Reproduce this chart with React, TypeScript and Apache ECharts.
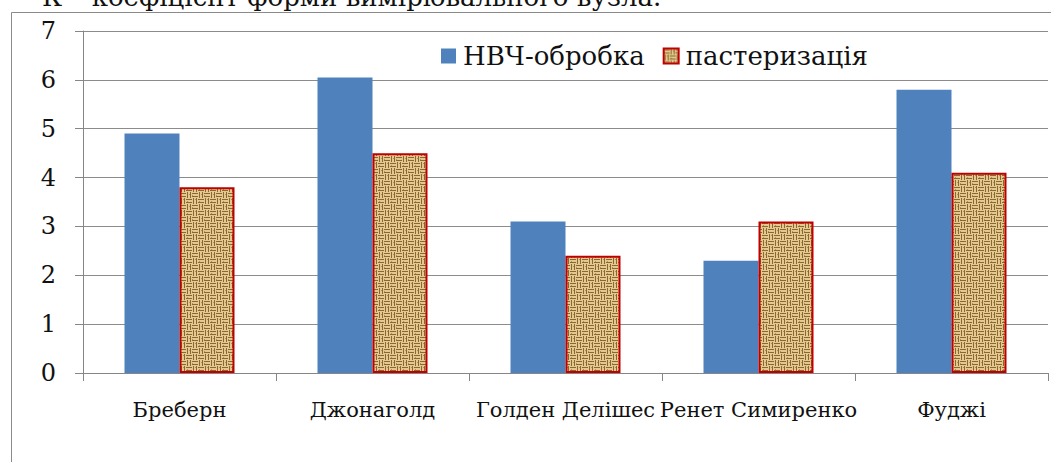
import React, { useEffect, useRef } from "react";
import * as echarts from "echarts";

const categories = ["Бреберн", "Джонаголд", "Голден Делішес", "Ренет Симиренко", "Фуджі"];
const seriesNames = ["НВЧ-обробка", "пастеризація"];
const microwaveValues = [4.9, 6.05, 3.1, 2.3, 5.8];
const pasteurValues = [3.8, 4.5, 2.4, 3.1, 4.1];
const yTicks = [0, 1, 2, 3, 4, 5, 6, 7];
const topCaption = "К – коефіцієнт форми вимірювального вузла.";

function makeBurlap(): HTMLCanvasElement {
  const c = document.createElement("canvas");
  c.width = 12;
  c.height = 12;
  const g = c.getContext("2d")!;
  g.fillStyle = "#e3c98f";
  g.fillRect(0, 0, 12, 12);
  g.fillStyle = "#8a672e";
  for (let by = 0; by < 2; by++) {
    for (let bx = 0; bx < 2; bx++) {
      const ox = bx * 6;
      const oy = by * 6;
      if ((bx + by) % 2 === 0) {
        g.fillRect(ox, oy + 1, 6, 1);
        g.fillRect(ox, oy + 4, 6, 1);
      } else {
        g.fillRect(ox + 1, oy, 1, 6);
        g.fillRect(ox + 4, oy, 1, 6);
      }
    }
  }
  g.fillStyle = "#b08f52";
  g.fillRect(0, 3, 1, 1);
  g.fillRect(7, 9, 1, 1);
  g.fillRect(3, 7, 1, 1);
  g.fillRect(9, 2, 1, 1);
  return c;
}

export default function App() {
  const ref = useRef<HTMLDivElement>(null);
  useEffect(() => {
    if (!ref.current) return;
    const chart = echarts.init(ref.current, undefined, { renderer: "svg" });
    const pattern = { image: makeBurlap(), repeat: "repeat" as const };
    const serif = "DejaVu Serif";
    const lbl = (size: number) => ({ fontFamily: serif, fontSize: size, color: "#111", fontWeight: "normal" as const, fontStyle: "normal" as const });
    chart.setOption({
      animation: false,
      backgroundColor: "#ffffff",
      textStyle: { fontFamily: serif },
      graphic: [
        {
          type: "rect",
          shape: { x: 11.5, y: 12.5, width: 1100, height: 600 },
          style: { fill: "none", stroke: "#8a8a8a", lineWidth: 1 },
          silent: true,
          z: -10,
        },
        {
          type: "text",
          left: 42,
          top: -16,
          style: { text: topCaption, fontFamily: serif, fontSize: 26, fill: "#111" },
          silent: true,
        },
      ],
      legend: {
        left: 436,
        top: 38,
        itemWidth: 15,
        itemHeight: 15,
        itemGap: 18,
        icon: "rect",
        textStyle: { ...lbl(26), padding: [0, 0, 0, 2] },
        data: seriesNames,
      },
      grid: { left: 83, right: 3, top: 31, bottom: 89, containLabel: false },
      xAxis: {
        type: "category",
        data: categories,
        axisLine: { lineStyle: { color: "#868686", width: 1 } },
        axisTick: { show: true, length: 8, lineStyle: { color: "#868686" } },
        axisLabel: { interval: 0, ...lbl(21), margin: 26 },
      },
      yAxis: {
        type: "value",
        min: 0,
        max: 7,
        interval: 1,
        axisLine: { show: true, lineStyle: { color: "#868686", width: 1 } },
        axisTick: { show: true, inside: false, length: 8, lineStyle: { color: "#868686" } },
        splitLine: { show: true, lineStyle: { color: "#8c8c8c", width: 1 } },
        axisLabel: {
          ...lbl(24),
          margin: 27,
          formatter: (v: number) => (yTicks.includes(v) ? String(v) : ""),
        },
      },
      series: [
        {
          name: seriesNames[0],
          type: "bar",
          data: microwaveValues,
          barWidth: 55,
          barGap: "0%",
          itemStyle: { color: "#4f81bd" },
        },
        {
          name: seriesNames[1],
          type: "bar",
          data: pasteurValues,
          barWidth: 55,
          barGap: "0%",
          itemStyle: { color: pattern, borderColor: "#c00000", borderWidth: 2 },
        },
      ],
    });
    return () => chart.dispose();
  }, []);
  return (
    <div
      ref={ref}
      style={{ position: "fixed", left: 0, top: 0, width: 1051, height: 462 }}
    />
  );
}
